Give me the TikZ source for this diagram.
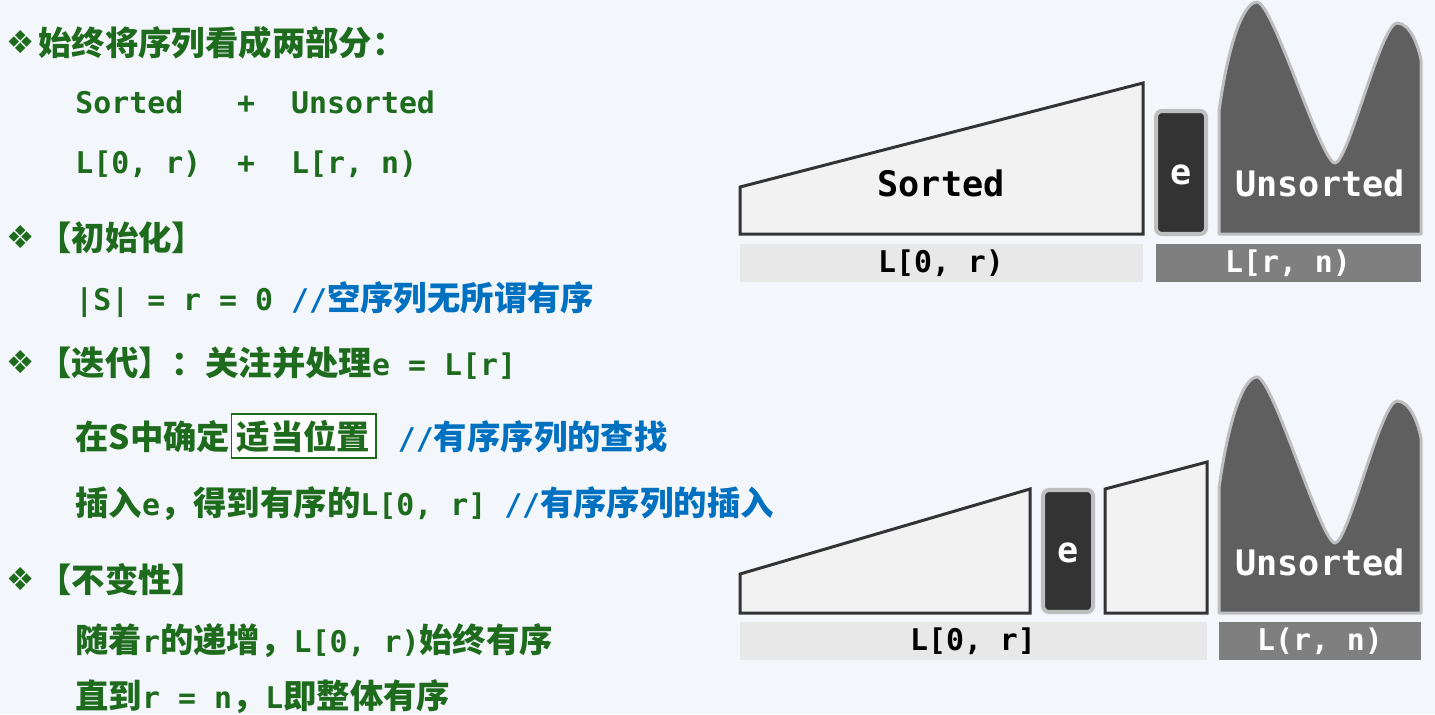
\documentclass[tikz,border=0pt]{standalone}
\usepackage{fontspec}
\setmonofont{DejaVu Sans Mono}
\newfontfamily\zhfont{Noto Sans CJK SC}
\newfontfamily\symfont{DejaVu Sans}

\definecolor{pagebg}{HTML}{F3F7FB}
\definecolor{txtgreen}{HTML}{1E6B1E}
\definecolor{txtblue}{HTML}{0070C0}
\definecolor{sortfill}{HTML}{F2F2F2}
\definecolor{darkline}{HTML}{333333}
\definecolor{lightline}{HTML}{BFBFBF}
\definecolor{blobfill}{HTML}{5F5F5F}
\definecolor{barlight}{HTML}{E8E8E8}
\definecolor{bardark}{HTML}{7F7F7F}

\newcommand\zh[1]{{\fontsize{19}{23}\selectfont\zhfont\bfseries #1}}
\newcommand\mo[1]{{\fontsize{17}{20}\selectfont\ttfamily\bfseries #1}}
\newcommand\cmt[1]{{\color{txtblue}#1}}

\begin{document}
\begin{tikzpicture}[x=0.02cm, y=-0.02cm,
  line/.style={anchor=base west, inner sep=0pt, text=txtgreen},
  bullet/.style={anchor=base west, inner sep=0pt, text=txtgreen, font=\symfont\fontsize{18}{20}\selectfont},
  sortedpart/.style={draw=darkline, fill=sortfill, line width=1.7pt},
  elem/.style={draw=lightline, fill=darkline, line width=2.3pt, rounded corners=3.4pt},
  blob/.style={draw=lightline, fill=blobfill, line width=1.7pt, line join=round},
  lbl/.style={font=\ttfamily\bfseries\fontsize{20}{24}\selectfont},
  barlbl/.style={font=\ttfamily\bfseries\fontsize{17}{20}\selectfont}]

\useasboundingbox (0,0) rectangle (1435,714);
\fill[pagebg] (0,0) rectangle (1435,714);

% ============================
% Left: text lines
% ============================
\node[bullet] (b1) at (6,53) {❖};
\node[line] (t1) at (38,55) {\zh{始终将序列看成两部分：}};
\node[line] (t2) at (75,113) {\mo{Sorted~~~+~~Unsorted}};
\node[line] (t3) at (75,173) {\mo{L[0, r)~~+~~L[r, n)}};

\node[bullet] (b2) at (6,248) {❖};
\node[line] (t4) at (38,250) {\zh{【初始化】}};
\node[line] (t5) at (75,310) {\mo{|S| = r = 0 }\cmt{\mo{//}\zh{空序列无所谓有序}}};

\node[bullet] (b3) at (6,373) {❖};
\node[line] (t6) at (38,375) {\zh{【迭代】：关注并处理}\mo{e = L[r]}};
\node[line] (t7) at (75,449) {\zh{在S中确定}};
\node[line, draw=txtgreen, fill=white, line width=1.1pt, inner xsep=3pt, inner ysep=3.5pt]
  (t7box) at (t7.base east) {\zh{适当位置}};
\node[line, xshift=0.42cm] (t7c) at (t7box.base east) {\cmt{\mo{//}\zh{有序序列的查找}}};
\node[line] (t8) at (75,515) {\zh{插入}\mo{e}\zh{，得到有序的}\mo{L[0, r] }\cmt{\mo{//}\zh{有序序列的插入}}};

\node[bullet] (b4) at (6,590) {❖};
\node[line] (t9) at (38,592) {\zh{【不变性】}};
\node[line] (t10) at (75,652) {\zh{随着}\mo{r}\zh{的递增，}\mo{L[0, r)}\zh{始终有序}};
\node[line] (t11) at (75,708) {\zh{直到}\mo{r = n}\zh{，}\mo{L}\zh{即整体有序}};

% ============================
% Right top: before insertion
% ============================
\draw[sortedpart] (740,234) -- (740,187) -- (1143,83) -- (1143,234) -- cycle;
\draw[elem] (1156,111) rectangle (1206,234);
\draw[blob] (1219,234) -- (1219,111)
  .. controls (1228,45) and (1243,2) .. (1257,2)
  .. controls (1273,2) and (1321,163) .. (1335,163)
  .. controls (1348,163) and (1381,23) .. (1397,23)
  .. controls (1410,23) and (1418,45) .. (1421,60)
  -- (1421,234) -- cycle;
\node[lbl] (srt1) at (941,183) {Sorted};
\node[lbl, text=white] (e1) at (1181,175) {e};
\node[lbl, text=white] (uns1) at (1320,183) {Unsorted};

\fill[barlight] (740,244) rectangle (1143,282);
\fill[bardark] (1156,244) rectangle (1421,282);
\node[barlbl] (rng1) at (941,263) {L[0, r)};
\node[barlbl, text=white] (rng2) at (1288,263) {L[r, n)};

% ============================
% Right bottom: after insertion
% ============================
\draw[sortedpart] (740,613) -- (740,574) -- (1030,489) -- (1030,613) -- cycle;
\draw[elem] (1043,490) rectangle (1093,612);
\draw[sortedpart] (1105,613) -- (1105,489) -- (1207,462) -- (1207,613) -- cycle;
\draw[blob] (1219,613) -- (1219,488)
  .. controls (1228,422) and (1243,377) .. (1257,377)
  .. controls (1273,377) and (1321,543) .. (1335,543)
  .. controls (1348,543) and (1381,401) .. (1397,401)
  .. controls (1410,401) and (1418,423) .. (1421,438)
  -- (1421,613) -- cycle;
\node[lbl, text=white] (e2) at (1068,553) {e};
\node[lbl, text=white] (uns2) at (1320,562) {Unsorted};

\fill[barlight] (740,622) rectangle (1207,660);
\fill[bardark] (1219,622) rectangle (1421,660);
\node[barlbl] (rng3) at (973,641) {L[0, r]};
\node[barlbl, text=white] (rng4) at (1320,641) {L(r, n)};

\end{tikzpicture}
\end{document}
